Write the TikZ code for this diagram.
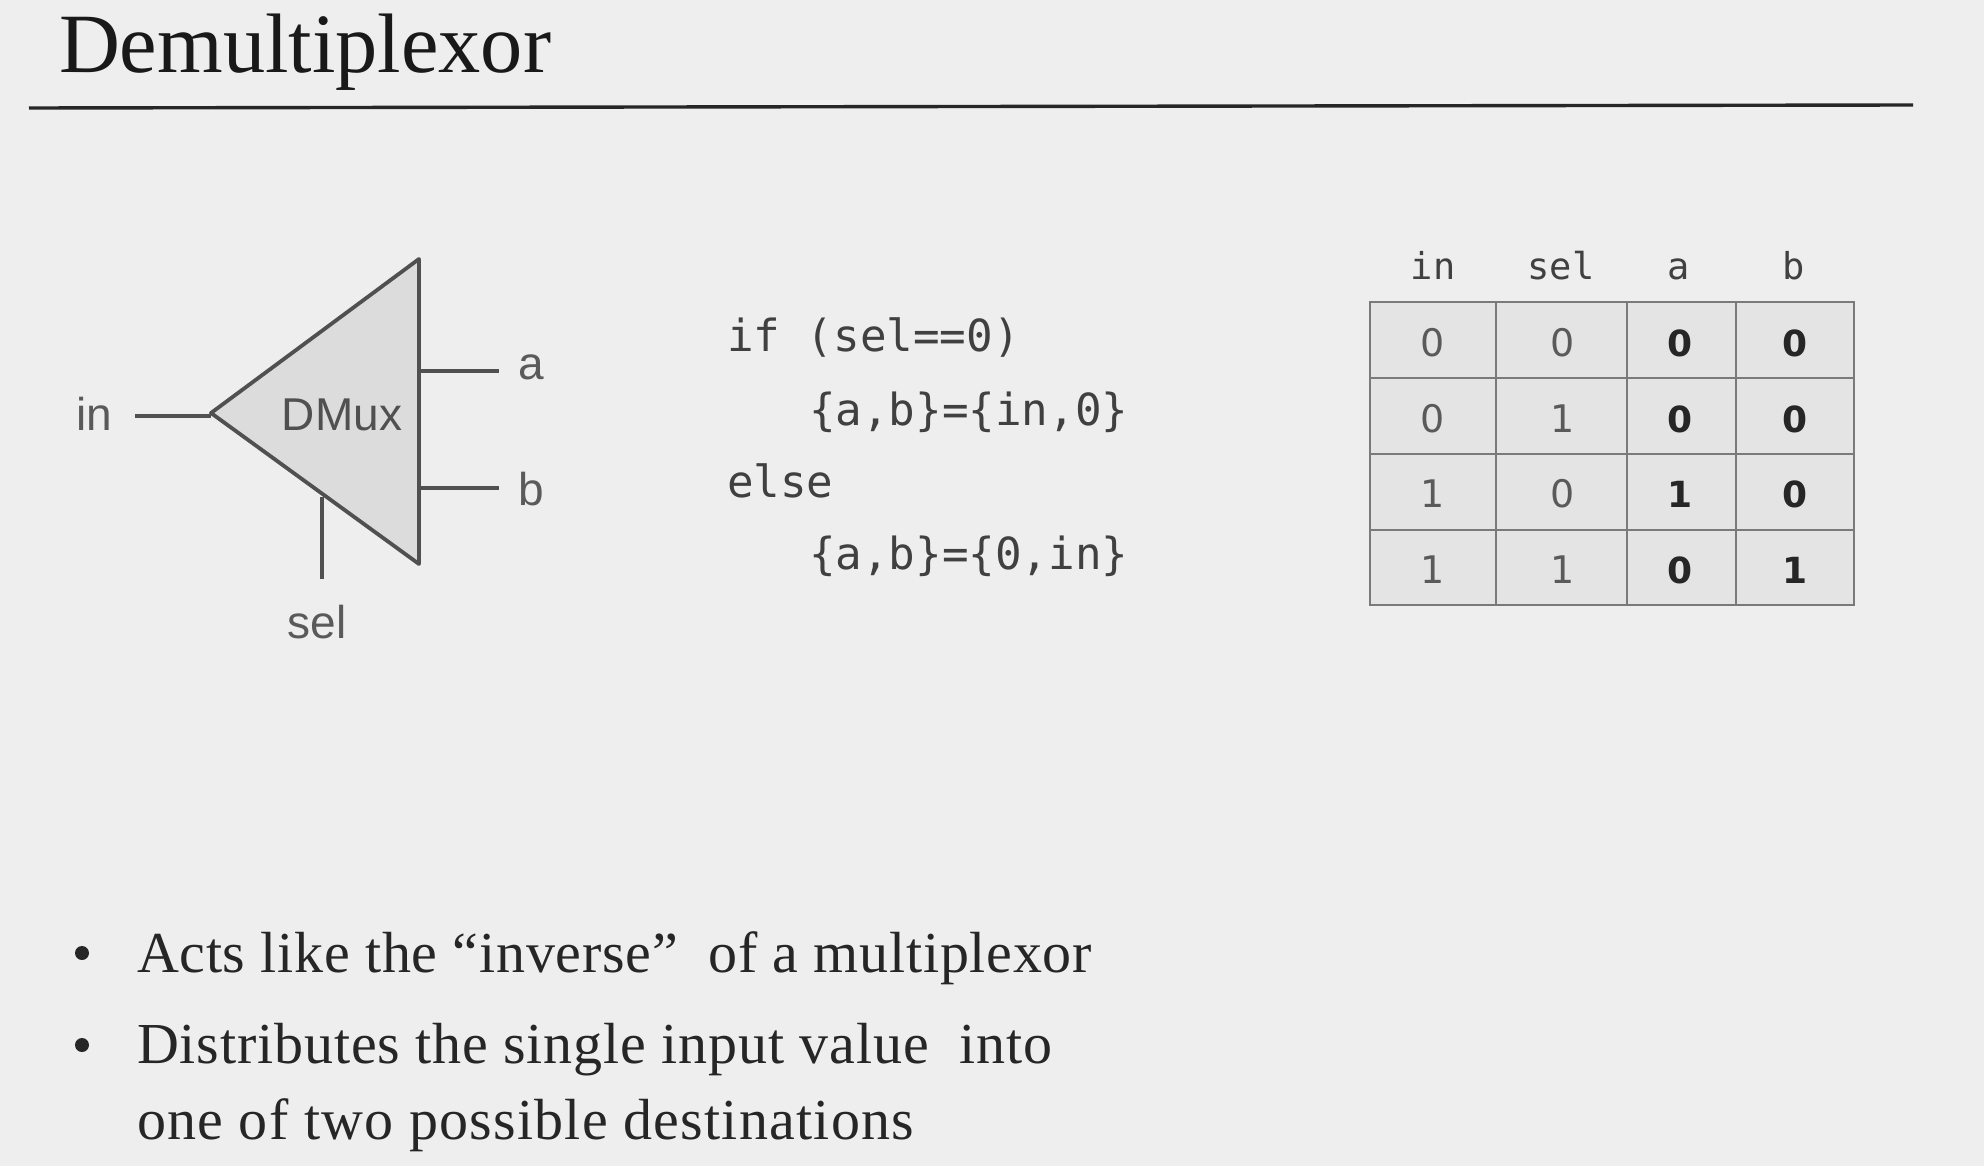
\documentclass[tikz,border=0pt]{standalone}
\usepackage{fontspec}
\setmainfont{Liberation Serif}
\newfontfamily\bodyf[LetterSpace=1.5]{Liberation Serif}
\newfontfamily\bodyn[LetterSpace=1.3]{Liberation Serif}
\newfontfamily\bodyw[LetterSpace=2.1]{Liberation Serif}
\newfontfamily\arialf{Liberation Sans}
\newfontfamily\dvmono{DejaVu Sans Mono}
\newfontfamily\dvsans{DejaVu Sans}
\definecolor{bgc}{HTML}{EEEEEE}
\definecolor{wirec}{HTML}{505050}
\definecolor{labelc}{HTML}{5A5A5A}
\definecolor{trifill}{HTML}{DCDCDC}
\definecolor{cellfill}{HTML}{E4E4E4}
\definecolor{gridc}{HTML}{7A7A7A}
\definecolor{textc}{HTML}{262626}
\definecolor{codec}{HTML}{404040}
\newcommand{\fs}[1]{\fontsize{#1}{#1}\selectfont}
\tikzset{
  txt/.style={inner sep=0pt,outer sep=0pt},
  title/.style={txt,anchor=base west,text=black!90,font=\fs{84.4}},
  bodytext/.style={txt,anchor=base west,text=textc,font=\bodyf\fs{58}},
  bulletmark/.style={circle,fill=textc,inner sep=0pt,minimum size=14pt},
  wire/.style={draw=wirec,line width=3.8pt},
  lab/.style={txt,anchor=base,text=labelc,font=\arialf\fs{46}},
  code/.style={txt,anchor=base west,text=codec,font=\dvmono\fs{44.2}},
  head/.style={txt,anchor=base,text=codec,font=\dvmono\fs{37}},
  dig/.style={txt,anchor=base,text=labelc,font=\dvsans\fs{38}},
  digb/.style={txt,anchor=base,text=black!85,font=\dvsans\bfseries\fs{36}},
  cell/.style={draw=gridc,fill=cellfill,line width=2.8pt},
}
\begin{document}
\begin{tikzpicture}[x=1pt,y=-1pt]
\path[use as bounding box,fill=bgc] (0,0) rectangle (1984,1166);
% title
\node[title] (ttl) at (59,73) {Demultiplexor};
\coordinate (ruleL) at (29,108);
\coordinate (ruleR) at (1913,105);
\draw[draw=textc,line width=3.4pt] (ruleL) -- (ruleR);
% triangle
\coordinate (apex) at (211,413);
\coordinate (tr) at (419,259);
\coordinate (br) at (419,564);
\draw[wire,fill=trifill,line join=round] (apex) -- (tr) -- (br) -- cycle;
\node[lab,text=wirec] (dmux) at (342,430) {DMux};
\node[lab] (lin) at (94,430) {in};
\node[lab] (la) at (531,379) {a};
\node[lab] (lb) at (531,505) {b};
\node[lab] (lsel) at (317,638) {sel};
\coordinate (inL) at (135,416);
\coordinate (inR) at (211,416);
\coordinate (aL) at (419,371);
\coordinate (aR) at (499,371);
\coordinate (bL) at (419,488);
\coordinate (bR) at (499,488);
\coordinate (selT) at (322,497);
\coordinate (selB) at (322,579);
\draw[wire] (inL) -- (inR);
\draw[wire] (aL) -- (aR);
\draw[wire] (bL) -- (bR);
\draw[wire] (selT) -- (selB);
% code
\node[code] (c1) at (727,352) {if (sel==0)};
\node[code] (c2) at (809,425) {\{a,b\}=\{in,0\}};
\node[code] (c3) at (727,497) {else};
\node[code] (c4) at (809,569) {\{a,b\}=\{0,in\}};
% table
\foreach \xa/\xb/\c in {1370/1496/A,1496/1627/B,1627/1736/C,1736/1854/D}
  \foreach \ya/\yb/\r in {302/378/1,378/454/2,454/530/3,530/605/4}
    \draw[cell] (\xa,\ya) rectangle (\xb,\yb);
\node[head] (hin) at (1433,280) {in};
\node[head] (hsel) at (1561,280) {sel};
\node[head] (ha) at (1679,280) {a};
\node[head] (hb) at (1794,280) {b};
\foreach \y/\p/\q/\s/\t [count=\i] in {356/0/0/0/0,432/0/1/0/0,507/1/0/1/0,583/1/1/0/1}{
  \node[dig] (r\i in) at (1433,\y) {\p};
  \node[dig] (r\i sel) at (1563,\y) {\q};
  \node[digb] (r\i a) at (1680,\y) {\s};
  \node[digb] (r\i b) at (1795,\y) {\t};
}
% bullets
\node[bulletmark] (b1) at (82,953) {};
\node[bodytext,font=\bodyn\fs{58}] (t1) at (137,972) {Acts like the “inverse”\ \ of a multiplexor};
\node[bulletmark] (b2) at (82,1045) {};
\node[bodytext] (t2) at (137,1063) {Distributes the single input value\ \ into};
\node[bodytext,font=\bodyw\fs{58}] (t3) at (137,1139) {one of two possible destinations};
\end{tikzpicture}
\end{document}
